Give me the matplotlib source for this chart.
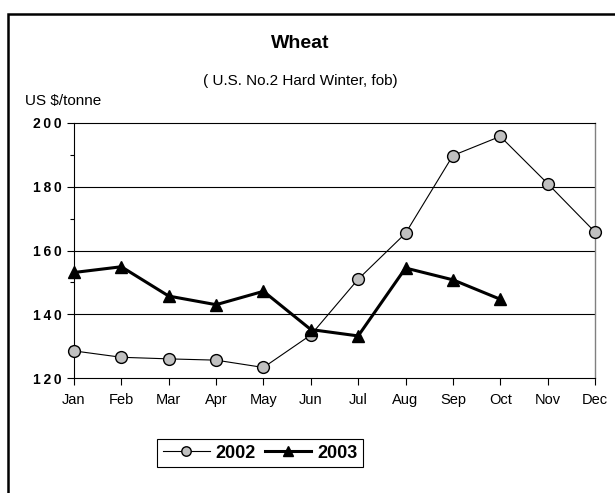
import matplotlib
matplotlib.use("Agg")
from matplotlib import pyplot as plt
from matplotlib.patches import Rectangle
import numpy as np

plt.rcParams['font.family'] = ['Liberation Sans', 'DejaVu Sans']

months = ['Jan', 'Feb', 'Mar', 'Apr', 'May', 'Jun', 'Jul', 'Aug', 'Sep', 'Oct', 'Nov', 'Dec']
y2002 = [128.5, 126.5, 126.0, 125.6, 123.3, 133.5, 151.0, 165.4, 189.8, 195.8, 181.0, 165.8]
y2003 = [153.1, 154.9, 145.7, 143.0, 147.2, 135.2, 133.2, 154.5, 150.8, 144.7]
yticks = [120, 140, 160, 180, 200]

fig = plt.figure(figsize=(6.15, 4.93), dpi=100)
ax = fig.add_axes([74/615, 1-378/493, (595-74)/615, (378-123)/493])

x = np.arange(len(months))
ax.plot(x, y2002, color='black', lw=0.8, marker='o', ms=8.5,
        mfc='#c0c0c0', mec='black', mew=1.0, label='2002', clip_on=False, zorder=3)
ax.plot(x[:len(y2003)], y2003, color='black', lw=2.2, marker='^', ms=9,
        mfc='black', mec='black', label='2003', clip_on=False, zorder=4)

ax.set_xlim(0, 11)
ax.set_ylim(120, 200)
ax.set_xticks(x)
ax.set_xticklabels(months, fontsize=10.5)
ax.set_yticks(yticks)
ax.set_yticklabels(['\u2009'.join(str(v)) for v in yticks],
                   fontsize=10, fontweight='bold')
ax.set_yticks([130, 150, 170, 190], minor=True)
ax.tick_params(axis='y', which='major', length=5, width=0.8, direction='out', pad=4)
ax.tick_params(axis='y', which='minor', length=3, width=0.8, direction='out')
ax.tick_params(axis='x', length=5, width=0.8, direction='out', pad=6)
for v in [140, 160, 180]:
    ax.axhline(v, color='black', lw=0.8, zorder=1)
for s in ['left', 'bottom', 'top']:
    ax.spines[s].set_linewidth(0.8)
ax.spines['right'].set_color('#808080')
ax.spines['right'].set_linewidth(1.0)

fig.text(300/615, 1-44/493, 'Wheat', ha='center', va='center',
         fontsize=14, fontweight='bold')
fig.text(300/615, 1-81/493, '( U.S. No.2 Hard Winter, fob)', ha='center',
         va='center', fontsize=11)
fig.text(25/615, 1-101/493, 'US $/tonne', ha='left', va='center', fontsize=11)

leg = fig.legend(loc='center', bbox_to_anchor=(260/615, 1-453/493), ncol=2,
                 fancybox=False, framealpha=1, edgecolor='black',
                 prop={'weight': 'bold', 'size': 13}, handlelength=2.6,
                 handletextpad=0.3, columnspacing=0.5, borderpad=0.3,
                 markerscale=0.8)
leg.get_frame().set_linewidth(0.8)

fig.patches.append(Rectangle((8/615, -0.1), 1.0, 1-14/493 + 0.1,
                             transform=fig.transFigure, fill=False,
                             edgecolor='black', lw=1.8))

fig.savefig('out.png', dpi=100)
